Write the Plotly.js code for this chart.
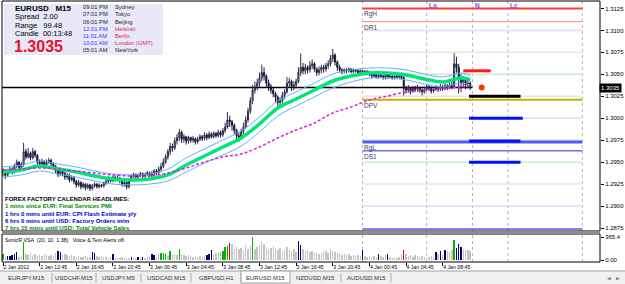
<!DOCTYPE html>
<html><head><meta charset="utf-8">
<script src="https://cdn.plot.ly/plotly-3.0.1.min.js"></script>
<style>html,body{margin:0;padding:0;background:#fff;overflow:hidden}#chart{width:625px;height:284px}</style>
</head><body><div id="chart"></div>
<script>
// ---------------- DATA ----------------
const symbol = "EURUSD", timeframe = "M15";
const opens = [
1.2940,1.2938,1.2935,1.2940,1.2942,1.2939,1.2946,1.2950,1.2944,1.2948,
1.2962,1.2956,1.2960,1.2955,1.2962,1.2958,1.2950,1.2948,1.2951,1.2947,
1.2950,1.2952,1.2948,1.2945,1.2940,1.2936,1.2941,1.2937,1.2933,1.2935,
1.2930,1.2932,1.2928,1.2924,1.2927,1.2922,1.2925,1.2921,1.2924,1.2920,
1.2923,1.2925,1.2922,1.2924,1.2923,1.2926,1.2928,1.2931,1.2929,1.2933,
1.2930,1.2932,1.2929,1.2925,1.2927,1.2922,1.2930,1.2934,1.2936,1.2933,
1.2935,1.2937,1.2934,1.2936,1.2938,1.2935,1.2937,1.2940,1.2938,1.2942,
1.2945,1.2950,1.2956,1.2962,1.2968,1.2966,1.2974,1.2978,1.2984,1.2976,
1.2979,1.2974,1.2978,1.2975,1.2977,1.2973,1.2976,1.2979,1.2977,1.2981,
1.2978,1.2982,1.2979,1.2983,1.2980,1.2984,1.2981,1.2986,1.2990,1.2998,
1.2996,1.2992,1.2986,1.2980,1.2978,1.2985,1.2990,1.2998,1.3008,1.3020,
1.3032,1.3036,1.3040,1.3046,1.3052,1.3048,1.3040,1.3036,1.3032,1.3028,
1.3024,1.3018,1.3020,1.3026,1.3030,1.3040,1.3042,1.3036,1.3038,1.3042,
1.3052,1.3058,1.3054,1.3058,1.3055,1.3060,1.3062,1.3056,1.3052,1.3055,
1.3058,1.3056,1.3060,1.3062,1.3068,1.3072,1.3064,1.3058,1.3055,1.3053,
1.3055,1.3054,1.3056,1.3053,1.3055,1.3054,1.3052,1.3054,1.3053,1.3051,
1.3053,1.3050,1.3048,1.3050,1.3047,1.3049,1.3048,1.3046,1.3049,1.3047,
1.3048,1.3046,1.3048,1.3047,1.3049,1.3046,1.3034,1.3032,1.3035,1.3031,
1.3034,1.3033,1.3035,1.3032,1.3030,1.3033,1.3036,1.3034,1.3031,1.3033,
1.3035,1.3033,1.3036,1.3034,1.3037,1.3035,1.3038,1.3036,1.3062,1.3058,
1.3046,1.3040,1.3044,1.3038,1.3040];
const highs = [
1.2943,1.2940,1.2942,1.2945,1.2944,1.2948,1.2953,1.2951,1.2950,1.2972,
1.2965,1.2966,1.2962,1.2966,1.2964,1.2959,1.2953,1.2954,1.2952,1.2953,
1.2955,1.2954,1.2950,1.2947,1.2942,1.2944,1.2943,1.2939,1.2938,1.2937,
1.2935,1.2934,1.2930,1.2930,1.2928,1.2927,1.2926,1.2926,1.2925,1.2925,
1.2927,1.2926,1.2926,1.2925,1.2928,1.2930,1.2934,1.2933,1.2935,1.2934,
1.2935,1.2933,1.2930,1.2929,1.2928,1.2932,1.2936,1.2938,1.2937,1.2937,
1.2939,1.2938,1.2938,1.2940,1.2939,1.2940,1.2942,1.2942,1.2945,1.2949,
1.2954,1.2959,1.2965,1.2972,1.2971,1.2978,1.2982,1.2988,1.2986,1.2982,
1.2980,1.2980,1.2979,1.2980,1.2978,1.2979,1.2982,1.2981,1.2984,1.2983,
1.2985,1.2984,1.2985,1.2984,1.2987,1.2986,1.2989,1.2995,1.3007,1.3003,
1.2998,1.2994,1.2988,1.2984,1.2988,1.2995,1.3002,1.3012,1.3024,1.3038,
1.3042,1.3045,1.3052,1.3061,1.3058,1.3050,1.3044,1.3039,1.3035,1.3030,
1.3026,1.3024,1.3030,1.3033,1.3047,1.3046,1.3044,1.3042,1.3045,1.3058,
1.3074,1.3063,1.3062,1.3060,1.3065,1.3067,1.3064,1.3058,1.3059,1.3061,
1.3061,1.3063,1.3066,1.3072,1.3079,1.3074,1.3066,1.3061,1.3057,1.3057,
1.3057,1.3058,1.3057,1.3057,1.3056,1.3056,1.3056,1.3055,1.3055,1.3055,
1.3054,1.3052,1.3052,1.3051,1.3051,1.3051,1.3050,1.3051,1.3050,1.3050,
1.3050,1.3050,1.3050,1.3051,1.3052,1.3048,1.3037,1.3038,1.3036,1.3037,
1.3037,1.3038,1.3036,1.3034,1.3035,1.3039,1.3038,1.3036,1.3036,1.3038,
1.3037,1.3039,1.3038,1.3040,1.3039,1.3041,1.3042,1.3074,1.3070,1.3062,
1.3050,1.3048,1.3046,1.3044,1.3042];
const lows = [
1.2934,1.2931,1.2933,1.2937,1.2936,1.2937,1.2943,1.2941,1.2942,1.2945,
1.2953,1.2954,1.2952,1.2953,1.2955,1.2947,1.2945,1.2946,1.2944,1.2945,
1.2948,1.2946,1.2942,1.2937,1.2933,1.2934,1.2934,1.2930,1.2930,1.2927,
1.2928,1.2925,1.2921,1.2922,1.2919,1.2920,1.2918,1.2919,1.2917,1.2918,
1.2921,1.2920,1.2920,1.2921,1.2921,1.2924,1.2926,1.2927,1.2927,1.2928,
1.2928,1.2926,1.2922,1.2922,1.2919,1.2920,1.2929,1.2932,1.2931,1.2931,
1.2933,1.2932,1.2932,1.2934,1.2933,1.2933,1.2935,1.2935,1.2936,1.2939,
1.2943,1.2948,1.2953,1.2958,1.2962,1.2964,1.2970,1.2974,1.2972,1.2972,
1.2970,1.2971,1.2972,1.2972,1.2970,1.2971,1.2974,1.2974,1.2975,1.2975,
1.2976,1.2977,1.2977,1.2978,1.2978,1.2978,1.2979,1.2983,1.2988,1.2990,
1.2986,1.2982,1.2976,1.2973,1.2976,1.2982,1.2988,1.2995,1.3005,1.3016,
1.3028,1.3032,1.3036,1.3042,1.3043,1.3036,1.3031,1.3028,1.3024,1.3018,
1.3014,1.3015,1.3017,1.3022,1.3028,1.3035,1.3031,1.3032,1.3034,1.3040,
1.3048,1.3050,1.3050,1.3051,1.3052,1.3056,1.3053,1.3048,1.3049,1.3051,
1.3052,1.3053,1.3056,1.3059,1.3064,1.3060,1.3054,1.3052,1.3050,1.3051,
1.3051,1.3052,1.3051,1.3051,1.3052,1.3050,1.3050,1.3050,1.3049,1.3049,
1.3048,1.3045,1.3046,1.3045,1.3045,1.3046,1.3044,1.3044,1.3045,1.3045,
1.3044,1.3044,1.3045,1.3045,1.3044,1.3026,1.3028,1.3029,1.3027,1.3029,
1.3030,1.3030,1.3029,1.3026,1.3028,1.3031,1.3031,1.3028,1.3029,1.3031,
1.3030,1.3031,1.3031,1.3032,1.3032,1.3033,1.3033,1.3034,1.3052,1.3028,
1.3030,1.3036,1.3033,1.3034,1.3032];
const closes = [
1.2938,1.2935,1.2940,1.2942,1.2939,1.2946,1.2950,1.2944,1.2948,1.2962,
1.2956,1.2960,1.2955,1.2962,1.2958,1.2950,1.2948,1.2951,1.2947,1.2950,
1.2952,1.2948,1.2945,1.2940,1.2936,1.2941,1.2937,1.2933,1.2935,1.2930,
1.2932,1.2928,1.2924,1.2927,1.2922,1.2925,1.2921,1.2924,1.2920,1.2923,
1.2925,1.2922,1.2924,1.2923,1.2926,1.2928,1.2931,1.2929,1.2933,1.2930,
1.2932,1.2929,1.2925,1.2927,1.2922,1.2930,1.2934,1.2936,1.2933,1.2935,
1.2937,1.2934,1.2936,1.2938,1.2935,1.2937,1.2940,1.2938,1.2942,1.2945,
1.2950,1.2956,1.2962,1.2968,1.2966,1.2974,1.2978,1.2984,1.2976,1.2979,
1.2974,1.2978,1.2975,1.2977,1.2973,1.2976,1.2979,1.2977,1.2981,1.2978,
1.2982,1.2979,1.2983,1.2980,1.2984,1.2981,1.2986,1.2990,1.2998,1.2996,
1.2992,1.2986,1.2980,1.2978,1.2985,1.2990,1.2998,1.3008,1.3020,1.3032,
1.3036,1.3040,1.3046,1.3052,1.3048,1.3040,1.3036,1.3032,1.3028,1.3024,
1.3018,1.3020,1.3026,1.3030,1.3040,1.3042,1.3036,1.3038,1.3042,1.3052,
1.3058,1.3054,1.3058,1.3055,1.3060,1.3062,1.3056,1.3052,1.3055,1.3058,
1.3056,1.3060,1.3062,1.3068,1.3072,1.3064,1.3058,1.3055,1.3053,1.3055,
1.3054,1.3056,1.3053,1.3055,1.3054,1.3052,1.3054,1.3053,1.3051,1.3053,
1.3050,1.3048,1.3050,1.3047,1.3049,1.3048,1.3046,1.3049,1.3047,1.3048,
1.3046,1.3048,1.3047,1.3049,1.3046,1.3034,1.3032,1.3035,1.3031,1.3034,
1.3033,1.3035,1.3032,1.3030,1.3033,1.3036,1.3034,1.3031,1.3033,1.3035,
1.3033,1.3036,1.3034,1.3037,1.3035,1.3038,1.3036,1.3062,1.3058,1.3046,
1.3040,1.3044,1.3038,1.3040,1.3035];
const volumes = [
91,46,61,61,76,91,122,46,61,289,
91,76,106,76,91,61,76,61,91,76,
61,76,61,106,137,122,76,91,76,61,
76,61,46,61,46,46,61,46,46,122,
106,61,46,61,46,46,30,46,91,30,
30,30,46,30,30,30,46,30,30,46,
30,46,30,46,61,91,76,46,91,106,
106,91,61,137,76,91,76,167,91,76,
61,76,61,46,61,46,61,46,61,76,
91,152,91,106,122,122,137,213,228,274,
258,182,213,167,198,152,243,182,228,365,
182,213,243,289,258,213,167,198,228,182,
152,198,137,167,213,152,137,167,122,304,
243,167,137,152,122,137,106,122,91,106,
122,137,106,167,137,122,106,91,76,91,
76,91,61,76,61,76,61,152,61,46,
61,46,61,46,91,61,46,76,91,46,
30,46,30,46,76,152,91,61,76,46,
76,61,46,61,46,30,46,61,46,122,
91,137,76,152,137,122,152,319,198,258,
213,182,152,152,137];
// VSA bar class: X normal, N low-volume signal, G strength, R weakness
const volumeClass = ("GXNNNNNXXG"+"XXXXXXXXXX"+"XXXXNNXXXX"+"XXXXXXXXXN"+"NXXXXXXXNX"+
  "XXXXXXNXXN"+"XNXXXNNXXG"+"GGXGXXXGXX"+"XXXXXXXXXN"+"NNXXXXGGGR"+"XXXXXXXXXG"+
  "XXXXXXXXXX"+"XXXXXXXXXN"+"NXXXXXXXXX"+"XXXXXXXXXX"+"XXXXXXXNXX"+"XXXXNXXXNX"+
  "XXXXXRXXXX"+"XXXXXXXXXN"+"XNXNXXXGNN"+"NXXXX").split("");
const volumeMax = 365.4;
// moving averages, read at these bars
const maBars = [0,8,16,24,32,40,48,56,64,72,80,88,96,104,112,120,128,136,144,152,160,168,176,184,192,200,204];
const emaClose = [1.29388,1.29411,1.29456,1.29422,1.29388,1.29342,1.29308,1.29297,1.29308,1.29354,1.29467,1.29570,1.29673,1.29775,1.29935,1.30117,1.30219,1.30322,1.30424,1.30481,1.30515,1.30515,1.30493,1.30447,1.30413,1.30458,1.30436];
const emaHigh = [1.29445,1.29467,1.29513,1.29479,1.29445,1.29399,1.29365,1.29354,1.29365,1.29422,1.29547,1.29650,1.29752,1.29855,1.30015,1.30196,1.30299,1.30401,1.30504,1.30550,1.30572,1.30572,1.30550,1.30504,1.30470,1.30515,1.30493];
const emaLow = [1.29331,1.29354,1.29399,1.29365,1.29331,1.29285,1.29251,1.29240,1.29251,1.29285,1.29388,1.29490,1.29581,1.29684,1.29843,1.30026,1.30139,1.30242,1.30344,1.30413,1.30458,1.30458,1.30436,1.30390,1.30356,1.30401,1.30379];
const ema89 = [1.29411,1.29422,1.29433,1.29422,1.29399,1.29376,1.29354,1.29342,1.29342,1.29376,1.29433,1.29502,1.29559,1.29593,1.29673,1.29775,1.29866,1.29946,1.30060,1.30128,1.30208,1.30253,1.30299,1.30322,1.30344,1.30356,1.30367];
// x-axis labels
const timeTickBars = [0,16,32,48,64,80,96,112,128,144,160,176,192];
const timeTickLabels = ["2 Jan 2012","2 Jan 12:45","2 Jan 16:45","2 Jan 20:45","3 Jan 00:45","3 Jan 04:45","3 Jan 08:45","3 Jan 12:45","3 Jan 16:45","3 Jan 20:45","4 Jan 00:45","4 Jan 04:45","4 Jan 08:45"];
const priceTicks = [1.3125,1.3100,1.3075,1.3050,1.3025,1.3000,1.2975,1.2950,1.2925,1.2900,1.2875];
// daily levels
const dayStartBar = 157, dayEndBar = 253;
const pivotNames  = ["RgH","DR1","DPV","RgL","DS1","DS2"];
const pivotPrices = [1.3125,1.3110,1.3021,1.2973,1.2963,1.2874];
const quarterLevels = [1.3100,1.3075,1.3050,1.3025,1.3000,1.2975,1.2950,1.2925,1.2900];
const targetPrices = [1.3054,1.3025,1.3000,1.2974,1.2950];
const targetStart  = [201,203.5,203.5,203.5,203.5];
const targetEnd    = [213,226,227,226,226];
const sessionNames = ["Lo","N","Lc"];
const sessionBars  = [185,205,220.5];
// info panel
const spread = "2.00", rangePips = "99.48", candleLeft = "00:13:48";
const clockTimes  = ["09:01 PM","07:01 PM","06:01 PM","12:01 PM","11:01 AM","10:01 AM","05:01 AM"];
const clockCities = ["Sydney","Tokyo","Beijing","Helsinki","Berlin","London (GMT)","NewYork"];
const clockOpen   = [0,0,0,1,1,1,0];
const newsTitle = "FOREX FACTORY CALENDAR HEADLINES:";
const newsLines = ["1 mins since EUR: Final Services PMI","1 hrs 0 mins until EUR: CPI Flash Estimate y/y","6 hrs 0 mins until USD: Factory Orders m/m","7 hrs 15 mins until USD: Total Vehicle Sales"];
const newsKind  = ["low","med","med","low"];
const indicatorLabel = "SonicR VSA  (20, 10, 1.38)   Voice & Text Alerts off.";
const tabNames = ["EURJPY,M15","USDCHF,M15","USDJPY,M5","USDCAD,M15","GBPUSD,H1","EURUSD,M15","NZDUSD,M15","AUDUSD,M15"];
const activeTab = "EURUSD,M15";

// ---------------- STYLE / LAYOUT ----------------
const FONT = "Liberation Sans, Arial, sans-serif";
const L=2, R=600, T=1, B=262;
const px = x => (x-L)/(R-L);
const py = y => (B-y)/(B-T);
const barPx = 2.29;
const xRange = [-1/barPx, -1/barPx + (R-L)/barPx];
const mainDomain = [py(231), 1];
const volDomain = [0, py(234)];
const volColors = {X:"#c4c4c4", N:"#00007a", G:"#00b400", R:"#e00000"};
const newsColors = {low:"#008a00", med:"#0000c8"};
const bars = closes.map((_, i) => i);
const last = closes.length - 1;
const bid = closes[last];

const traces = [];
traces.push({type:"candlestick", x:bars, open:opens, high:highs, low:lows, close:closes,
  xaxis:"x", yaxis:"y", whiskerwidth:0, hoverinfo:"skip",
  increasing:{line:{color:"#2c2c4c", width:1}, fillcolor:"#9a9ab4"},
  decreasing:{line:{color:"#181838", width:1}, fillcolor:"#181838"}});
traces.push({type:"scatter", mode:"lines", x:maBars, y:emaHigh, line:{color:"#62b0ff", width:1, shape:"spline"}, xaxis:"x", yaxis:"y"});
traces.push({type:"scatter", mode:"lines", x:maBars, y:emaLow, line:{color:"#62b0ff", width:1, shape:"spline"}, xaxis:"x", yaxis:"y"});
traces.push({type:"scatter", mode:"lines", x:maBars, y:emaClose, line:{color:"#00e676", width:3.5, shape:"spline"}, xaxis:"x", yaxis:"y"});
traces.push({type:"scatter", mode:"lines", x:maBars, y:ema89, line:{color:"#e020e0", width:1.5, dash:"3px,2px", shape:"spline"}, xaxis:"x", yaxis:"y"});
["X","N","G","R"].forEach(c => {
  const xs=[], ys=[];
  volumeClass.forEach((k,i) => { if (k===c) { xs.push(i); ys.push(volumes[i]); } });
  traces.push({type:"bar", x:xs, y:ys, xaxis:"x", yaxis:"y2", width:0.62, marker:{color:volColors[c], line:{width:0}}});
});
traces.push({type:"scatter", mode:"markers", x:[last+5], y:[bid], marker:{size:6, color:"#ff3300"}, xaxis:"x", yaxis:"y"});

const shapes = [];
const hline = (x0,x1,y,color,width,layer) => ({type:"line", xref:"x", yref:"y", x0, x1, y0:y, y1:y, line:{color, width}, layer:layer||"below"});
const qColor = v => { const r = Math.round(v*10000) % 100; return r===50 ? "#c8f0c8" : (r===0 ? "#dcdcf4" : "#ece6da"); };
quarterLevels.forEach(v => shapes.push(hline(dayStartBar, dayEndBar, v, qColor(v), 1.5)));
const pivotStyle = {RgH:["#ff3a3a",2], DR1:["#ff8a6a",1], DPV:["#c4b400",2], RgL:["#4a5cff",3], DS1:["#7474e0",1.5], DS2:["#5a5ae8",1.5]};
pivotNames.forEach((n,k) => shapes.push(hline(dayStartBar, dayEndBar, pivotPrices[k], pivotStyle[n][0], pivotStyle[n][1])));
const targetColors = ["#ff1a1a","#000000","#0010ff","#0010ff","#0010ff"];
targetPrices.forEach((v,k) => shapes.push(hline(targetStart[k], targetEnd[k], v, targetColors[k], 3, "above")));
shapes.push(hline(-2, last+1, bid, "#000000", 1.5));
[dayStartBar, ...sessionBars, dayEndBar].forEach(b => shapes.push({type:"line", xref:"x", yref:"paper", x0:b, x1:b, y0:0, y1:1, line:{color:"#b4b4b4", width:1, dash:"dot"}, layer:"below"}));
// info box
shapes.push({type:"rect", xref:"paper", yref:"paper", x0:px(4), x1:px(163), y0:py(55), y1:py(4), fillcolor:"#e8e8f8", line:{width:0}, layer:"below"});
// panel frames
shapes.push({type:"rect", xref:"paper", yref:"paper", x0:0, x1:1, y0:mainDomain[0], y1:1, line:{color:"#000", width:1}, layer:"above"});
shapes.push({type:"rect", xref:"paper", yref:"paper", x0:0, x1:1, y0:0, y1:volDomain[1], line:{color:"#000", width:1}, layer:"above"});
shapes.push({type:"rect", xref:"paper", yref:"paper", x0:0, x1:1, y0:volDomain[1], y1:mainDomain[0], fillcolor:"#8c8c8c", line:{width:0}, layer:"above"});
// tab bar
shapes.push({type:"rect", xref:"paper", yref:"paper", x0:px(0), x1:px(625), y0:py(284), y1:py(271), fillcolor:"#f0f0f0", line:{width:0}, layer:"above"});
shapes.push({type:"line", xref:"paper", yref:"paper", x0:px(0), x1:px(625), y0:py(271), y1:py(271), line:{color:"#a0a0a0", width:1}, layer:"above"});
const tabLeft = [0,52,96,141,191,241,290,341];
const tabRight = [52,96,141,191,241,290,341,391];
tabNames.forEach((t,k) => {
  if (t === activeTab) {
    shapes.push({type:"rect", xref:"paper", yref:"paper", x0:px(tabLeft[k]), x1:px(tabRight[k]), y0:py(283), y1:py(271), fillcolor:"#ffffff", line:{color:"#a0a0a0", width:1}, layer:"above"});
  } else {
    shapes.push({type:"line", xref:"paper", yref:"paper", x0:px(tabRight[k]), x1:px(tabRight[k]), y0:py(282), y1:py(273), line:{color:"#a8a8a8", width:1}, layer:"above"});
  }
});

const ann = [];
const txt = (x, y, text, size, color, bold, extra) => Object.assign({xref:"paper", yref:"paper", x:px(x), y:py(y), text: bold ? "<b>"+text+"</b>" : text, showarrow:false, xanchor:"left", yanchor:"middle", borderpad:0, font:{family:FONT, size, color}}, extra||{});
ann.push(txt(14, 8, symbol + "&nbsp;&nbsp;&nbsp;" + timeframe, 8, "#000", true));
ann.push(txt(14, 17, "Spread&nbsp;&nbsp;" + spread, 7.5, "#000", false));
ann.push(txt(14, 25.5, "Range&nbsp;&nbsp;&nbsp;" + rangePips, 7.5, "#000", false));
ann.push(txt(14, 34, "Candle&nbsp;&nbsp;" + candleLeft, 7.5, "#000", false));
ann.push(txt(13, 46, bid.toFixed(4), 16, "#e8102c", true));
const clockY = [6.7,14.5,22,29.3,36.3,43.3,50.3];
clockTimes.forEach((t,k) => {
  ann.push(txt(82, clockY[k], t, 5.8, clockOpen[k] ? "#3a3aff" : "#222", false));
  ann.push(txt(114, clockY[k], clockCities[k], 5.8, clockOpen[k] ? "#e0205a" : "#222", false));
});
ann.push(txt(4, 198.5, newsTitle, 6, "#000", true));
const newsY = [206, 213.5, 221, 228];
newsLines.forEach((t,k) => ann.push(txt(4, newsY[k], t, 6, newsColors[newsKind[k]], true)));
ann.push(txt(4, 240, indicatorLabel, 5.3, "#000", false));
// pivot labels
pivotNames.forEach((n,k) => { if (n !== "DS2") ann.push({xref:"x", yref:"y", x:dayStartBar+0.4, y:pivotPrices[k], text:n, showarrow:false, xanchor:"left", yanchor:"top", yshift:-1, borderpad:0, font:{family:FONT, size:6.5, color:"#3a3a6a"}}); });
sessionNames.forEach((n,k) => ann.push({xref:"x", yref:"paper", x:sessionBars[k]+0.6, y:py(5), text:"<b>"+n+"</b>", showarrow:false, xanchor:"left", yanchor:"middle", borderpad:0, font:{family:FONT, size:6.5, color:"#9a40d0"}}));
// bid label on price scale
ann.push({xref:"paper", yref:"y", x:1, y:bid, text:bid.toFixed(4), showarrow:false, xanchor:"left", yanchor:"middle", xshift:-1, bgcolor:"#000", borderpad:1, font:{family:FONT, size:6, color:"#fff"}});
// tabs
tabNames.forEach((t,k) => ann.push(txt((tabLeft[k]+tabRight[k])/2, 277.5, t, 6, "#333", false, {xanchor:"center"})));
ann.push(txt(606, 277.5, "◀", 5, "#888", false));
ann.push(txt(615, 277.5, "▶", 5, "#888", false));

const layout = {
  width:625, height:284, margin:{l:L, r:625-R, t:T, b:284-B, pad:0},
  paper_bgcolor:"#fff", plot_bgcolor:"#fff", showlegend:false, bargap:0,
  xaxis:{domain:[0,1], range:xRange, anchor:"y2", tickmode:"array", tickvals:timeTickBars, ticktext:timeTickLabels,
    ticks:"outside", ticklen:3, tickcolor:"#000", ticklabelposition:"outside right",
    tickfont:{family:FONT, size:5.2, color:"#000"}, showgrid:false, zeroline:false, showline:false, rangeslider:{visible:false}, fixedrange:true},
  yaxis:{domain:mainDomain, range:[1.28716, 1.31335], anchor:"x", side:"right", tickmode:"array", tickvals:priceTicks,
    ticktext:priceTicks.map(v => v.toFixed(4)), ticks:"outside", ticklen:3, tickcolor:"#000",
    tickfont:{family:FONT, size:6, color:"#000"}, showgrid:false, zeroline:false, showline:false, fixedrange:true},
  yaxis2:{domain:volDomain, range:[-31.8, 413], anchor:"x", side:"right", tickmode:"array", tickvals:[volumeMax, 0],
    ticktext:[volumeMax.toFixed(1), "0.00"], ticks:"outside", ticklen:3, tickcolor:"#000",
    tickfont:{family:FONT, size:6, color:"#000"}, showgrid:false, zeroline:false, showline:false, fixedrange:true},
  shapes, annotations:ann
};
Plotly.newPlot("chart", traces, layout, {staticPlot:true, displayModeBar:false});
</script>
</body></html>
